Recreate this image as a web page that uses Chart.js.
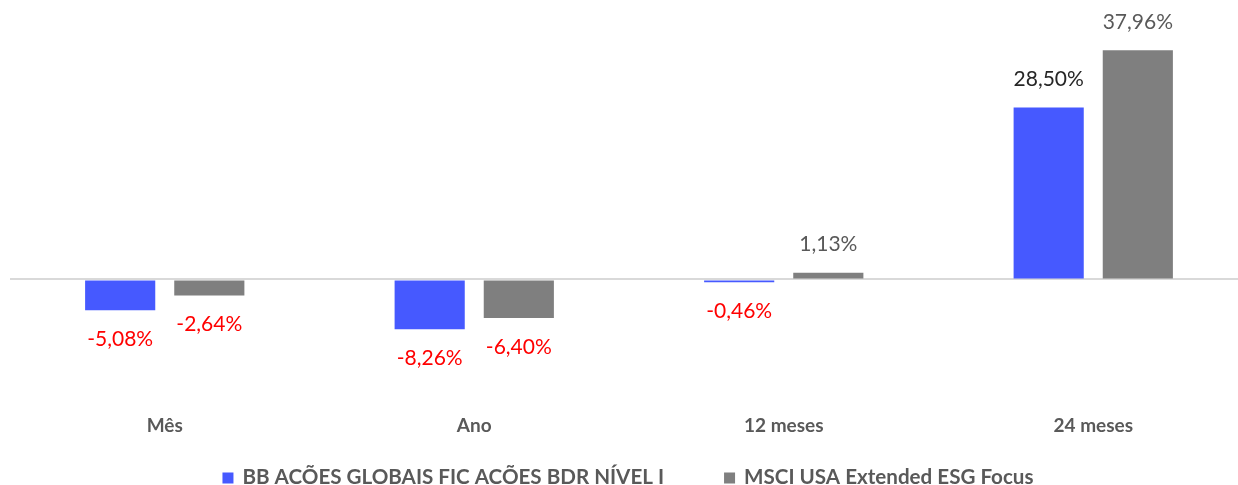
<!DOCTYPE html>
<html>
<head>
<meta charset="utf-8">
<script src="https://cdn.jsdelivr.net/npm/chart.js@4/dist/chart.umd.min.js"></script>
<style>
html,body{margin:0;padding:0;background:#fff;overflow:hidden;}
#wrap{width:1238px;height:485px;position:relative;overflow:hidden;}
</style>
</head>
<body>
<div id="wrap"><canvas id="c" width="1248" height="485"></canvas></div>
<script>
const categories = ['Mês', 'Ano', '12 meses', '24 meses'];
const fundLabel = 'BB ACÕES GLOBAIS FIC ACÕES BDR NÍVEL I';
const benchLabel = 'MSCI USA Extended ESG Focus';
const fundValues = [-5.08, -8.26, -0.46, 28.50];
const benchValues = [-2.64, -6.40, 1.13, 37.96];

const FONT = 'Lato, Carlito, "Open Sans", sans-serif';
const VISIBLE_WIDTH = 1238;
const fmt = v => v.toFixed(2).replace('.', ',') + '%';

const valueLabels = {
  id: 'valueLabels',
  afterDatasetsDraw(chart) {
    const ctx = chart.ctx;
    ctx.save();
    ctx.font = '21px ' + FONT;
    ctx.textAlign = 'center';
    ctx.textBaseline = 'middle';
    chart.data.datasets.forEach((ds, di) => {
      const meta = chart.getDatasetMeta(di);
      meta.data.forEach((bar, i) => {
        const v = ds.data[i];
        const y = v >= 0 ? bar.y - 28 : bar.y + 29;
        ctx.fillStyle = v < 0 ? '#FF0000' : ds.labelColor;
        ctx.fillText(fmt(v), bar.x, y);
      });
    });
    ctx.restore();
  }
};

const customLegend = {
  id: 'customLegend',
  afterDraw(chart) {
    const ctx = chart.ctx;
    ctx.save();
    ctx.font = 'bold 20.6px ' + FONT;
    ctx.textBaseline = 'middle';
    const box = 11, gapBox = 9, gapItem = 60;
    const items = chart.data.datasets.map(ds => ({text: ds.label, color: ds.backgroundColor, w: ctx.measureText(ds.label).width}));
    let total = 0;
    items.forEach((it, i) => { total += box + gapBox + it.w + (i < items.length - 1 ? gapItem : 0); });
    let x = (VISIBLE_WIDTH - total) / 2 + 9;
    const y = 477;
    items.forEach(it => {
      ctx.fillStyle = it.color;
      ctx.fillRect(x, y - box / 2 + 1, box, box);
      x += box + gapBox;
      ctx.fillStyle = '#595959';
      ctx.fillText(it.text, x, y);
      x += it.w + gapItem;
    });
    ctx.restore();
  }
};

new Chart(document.getElementById('c'), {
  type: 'bar',
  data: {
    labels: categories,
    datasets: [
      {label: fundLabel, data: fundValues, backgroundColor: '#4659FF', labelColor: '#262626'},
      {label: benchLabel, data: benchValues, backgroundColor: '#7F7F7F', labelColor: '#595959'}
    ]
  },
  options: {
    responsive: false,
    animation: false,
    devicePixelRatio: 1,
    categoryPercentage: 0.576,
    barPercentage: 0.787,
    layout: {padding: {left: 10, right: 0, top: 38, bottom: 42}},
    plugins: {legend: {display: false}, tooltip: {enabled: false}},
    scales: {
      x: {
        grid: {display: false},
        border: {display: false},
        ticks: {color: '#595959', font: {family: FONT, size: 19, weight: 'bold'}, padding: 6, maxRotation: 0}
      },
      y: {
        display: true,
        min: -20,
        max: 40,
        ticks: {display: false, stepSize: 20},
        border: {display: false},
        grid: {
          drawTicks: false,
          lineWidth: 2,
          color: ctx => (ctx.tick && ctx.tick.value === 0) ? '#D9D9D9' : 'rgba(0,0,0,0)'
        }
      }
    }
  },
  plugins: [valueLabels, customLegend]
});
</script>
</body>
</html>
